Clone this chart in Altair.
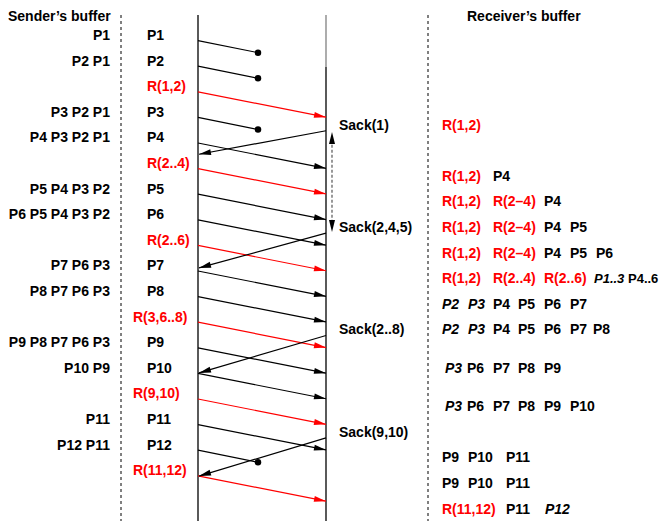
import math
import altair as alt
import pandas as pd

# ---------------- content ----------------
sender_packets = ["P1", "P2", "R(1,2)", "P3", "P4", "R(2..4)", "P5", "P6", "R(2..6)",
                  "P7", "P8", "R(3,6..8)", "P9", "P10", "R(9,10)", "P11", "P12", "R(11,12)"]
sender_buffers = ["P1", "P2 P1", "", "P3 P2 P1", "P4 P3 P2 P1", "", "P5 P4 P3 P2",
                  "P6 P5 P4 P3 P2", "", "P7 P6 P3", "P8 P7 P6 P3", "", "P9 P8 P7 P6 P3",
                  "P10 P9", "", "P11", "P12 P11", ""]
lost_packets = ["P1", "P2", "P3", "P12"]

# time slots (one slot = one sender row)
sack_labels = ["Sack(1)", "Sack(2,4,5)", "Sack(2..8)", "Sack(9,10)"]
sack_label_slot = [3.5, 7.5, 11.5, 15.5]
sack_sent_slot = [3.7, 7.7, 11.7, 15.7]
sack_recv_slot = [4.62, 9.06, 13.16, 17.19]

receiver_slot = [3.5, 5.5, 6.5, 7.5, 8.5, 9.5, 10.5, 11.5, 13.0, 14.5, 16.5, 17.5, 18.5]
receiver_rows = [
    [("R(1,2)", "r")],
    [("R(1,2)", "r"), ("P4", "b")],
    [("R(1,2)", "r"), ("R(2–4)", "r"), ("P4", "b")],
    [("R(1,2)", "r"), ("R(2–4)", "r"), ("P4", "b"), ("P5", "b")],
    [("R(1,2)", "r"), ("R(2–4)", "r"), ("P4", "b"), ("P5", "b"), ("P6", "b")],
    [("R(1,2)", "r"), ("R(2..4)", "r"), ("R(2..6)", "r"), ("P1..3", "i"), ("P4..6", "b")],
    [("P2", "i"), ("P3", "i"), ("P4", "b"), ("P5", "b"), ("P6", "b"), ("P7", "b")],
    [("P2", "i"), ("P3", "i"), ("P4", "b"), ("P5", "b"), ("P6", "b"), ("P7", "b"), ("P8", "b")],
    [("P3", "i"), ("P6", "b"), ("P7", "b"), ("P8", "b"), ("P9", "b")],
    [("P3", "i"), ("P6", "b"), ("P7", "b"), ("P8", "b"), ("P9", "b"), ("P10", "b")],
    [("P9", "b"), ("P10", "b"), ("P11", "b")],
    [("P9", "b"), ("P10", "b"), ("P11", "b")],
    [("R(11,12)", "r"), ("P11", "b"), ("P12", "i")],
]
# layout: x position of each token on the receiver side
receiver_cols = [
    [442],
    [442, 493],
    [442, 493, 544],
    [442, 493, 544, 570],
    [442, 493, 544, 570, 596],
    [442, 493, 544, 594, 628],
    [442, 468, 493, 518, 544, 570],
    [442, 468, 493, 518, 544, 570, 593],
    [445, 467, 493, 518, 544],
    [445, 467, 493, 518, 544, 570],
    [442, 468, 506],
    [442, 468, 506],
    [442, 506, 545],
]
SMALL_TOKENS = ("P1..3", "P4..6")

# ---------------- layout ----------------
RED = "#ff0000"
BLACK = "#000000"
SLOT_PX = 25.6
Y0 = 36.0
W, H = 654, 513
k_top = (8 - Y0) / SLOT_PX
k_bot = (8 + H - Y0) / SLOT_PX
X_BUF, X_PKT, X_PKT_LONG = 110, 147, 133
X_SEND, X_RECV, X_DROP = 198, 326, 258
X_SACK, X_DASH_L, X_DASH_R, X_DARROW = 339, 121, 428, 332
SEND_OFF, TRAVEL, DROP_TRAVEL = 0.18, 0.99, 0.47
TOP_K = (15 - Y0) / SLOT_PX
DASH_END_K = (523 - Y0) / SLOT_PX
BOT_K = k_bot
TITLE_K = (16.5 - Y0) / SLOT_PX
ARROW = "M0,0L-2,-0.5L-2,0.5Z"

xs = alt.Scale(domain=[8, 8 + W], nice=False, zero=False)
ys = alt.Scale(domain=[k_top, k_bot], reverse=True, nice=False, zero=False)
X = alt.X("x:Q", scale=xs, axis=None)
Y = alt.Y("k:Q", scale=ys, axis=None)
X2 = alt.X2("x2:Q")
Y2 = alt.Y2("k2:Q")
C = alt.Color("color:N", scale=None)
S = alt.Size("fs:Q", scale=None)


def angle(x1, k1, x2, k2):
    return math.degrees(math.atan2((k2 - k1) * SLOT_PX, x2 - x1)) % 360


# text tables
left_rows, ital_rows, right_rows = [], [], []
left_rows.append(dict(x=8, k=TITLE_K, text="Sender’s buffer", color=BLACK, fs=14))
left_rows.append(dict(x=467, k=TITLE_K, text="Receiver’s buffer", color=BLACK, fs=14))
for k, (p, b) in enumerate(zip(sender_packets, sender_buffers)):
    red = p.startswith("R")
    px = X_PKT_LONG if p in ("R(3,6..8)", "R(9,10)", "R(11,12)") else X_PKT
    left_rows.append(dict(x=px, k=k, text=p, color=RED if red else BLACK, fs=14))
    if b:
        right_rows.append(dict(x=X_BUF, k=k, text=b, color=BLACK, fs=14))
for lab, ks in zip(sack_labels, sack_label_slot):
    left_rows.append(dict(x=X_SACK, k=ks, text=lab, color=BLACK, fs=14))
for ks, row, cols in zip(receiver_slot, receiver_rows, receiver_cols):
    for (t, sty), cx in zip(row, cols):
        d = dict(x=cx, k=ks, text=t, color=RED if sty == "r" else BLACK,
                 fs=13 if t in SMALL_TOKENS else 14)
        (ital_rows if sty == "i" else left_rows).append(d)

# arrows
shafts, heads, dots = [], [], []
for k, p in enumerate(sender_packets):
    col = RED if p.startswith("R") else BLACK
    s = k + SEND_OFF
    if p in lost_packets:
        e = s + DROP_TRAVEL
        shafts.append(dict(x=X_SEND, k=s, x2=X_DROP, k2=e, color=col))
        dots.append(dict(x=X_DROP, k=e))
    else:
        e = s + TRAVEL
        shafts.append(dict(x=X_SEND, k=s, x2=X_RECV, k2=e, color=col))
        heads.append(dict(x=X_RECV, k=e, ang=angle(X_SEND, s, X_RECV, e), color=col))
for s, e in zip(sack_sent_slot, sack_recv_slot):
    shafts.append(dict(x=X_RECV, k=s, x2=X_SEND + 1, k2=e, color=BLACK))
    heads.append(dict(x=X_SEND + 1, k=e, ang=angle(X_RECV, s, X_SEND + 1, e), color=BLACK))

darrow_top, darrow_bot = 3.75, 7.66
heads.append(dict(x=X_DARROW, k=darrow_top, ang=270.0, color=BLACK))
heads.append(dict(x=X_DARROW, k=darrow_bot, ang=90.0, color=BLACK))

solid_lines = pd.DataFrame([
    dict(x=X_SEND, k=TOP_K, x2=X_SEND, k2=BOT_K, color=BLACK),
    dict(x=X_RECV, k=TOP_K, x2=X_RECV, k2=(67 - Y0) / SLOT_PX, color="#808080"),
    dict(x=X_RECV, k=(67 - Y0) / SLOT_PX, x2=X_RECV, k2=BOT_K, color=BLACK),
])
dashed_lines = pd.DataFrame([
    dict(x=X_DASH_L, k=TOP_K, x2=X_DASH_L, k2=DASH_END_K),
    dict(x=X_DASH_R, k=TOP_K, x2=X_DASH_R, k2=DASH_END_K),
])
darrow = pd.DataFrame([dict(x=X_DARROW, k=darrow_top + 0.3, x2=X_DARROW, k2=darrow_bot - 0.3)])

FONT = "Liberation Sans"

layers = [
    alt.Chart(solid_lines).mark_rule(strokeWidth=1.3).encode(x=X, y=Y, x2=X2, y2=Y2, color=C),
    alt.Chart(dashed_lines).mark_rule(strokeWidth=1, strokeDash=[3, 3], color=BLACK).encode(x=X, y=Y, x2=X2, y2=Y2),
    alt.Chart(darrow).mark_rule(strokeWidth=1.2, strokeDash=[3, 2], color="#555555").encode(x=X, y=Y, x2=X2, y2=Y2),
    alt.Chart(pd.DataFrame(shafts)).mark_rule(strokeWidth=1.2).encode(x=X, y=Y, x2=X2, y2=Y2, color=C),
    alt.Chart(pd.DataFrame(heads)).mark_point(shape=ARROW, filled=True, size=144, opacity=1, strokeWidth=0).encode(
        x=X, y=Y, angle=alt.Angle("ang:Q", scale=None), color=C),
    alt.Chart(pd.DataFrame(dots)).mark_circle(size=42, opacity=1, color=BLACK).encode(x=X, y=Y),
    alt.Chart(pd.DataFrame(left_rows)).mark_text(align="left", baseline="middle", font=FONT,
                                                 fontWeight="bold").encode(x=X, y=Y, text="text:N", color=C, size=S),
    alt.Chart(pd.DataFrame(ital_rows)).mark_text(align="left", baseline="middle", font=FONT,
                                                 fontWeight="bold", fontStyle="italic").encode(x=X, y=Y, text="text:N", color=C, size=S),
    alt.Chart(pd.DataFrame(right_rows)).mark_text(align="right", baseline="middle", font=FONT,
                                                  fontWeight="bold").encode(x=X, y=Y, text="text:N", color=C, size=S),
]

chart = alt.layer(*layers).properties(
    width=W, height=H, padding=0, autosize=alt.AutoSizeParams(type="none"), background="white"
).configure_view(stroke=None)

chart.save("out.html", embed_options={"renderer": "svg", "actions": False})
